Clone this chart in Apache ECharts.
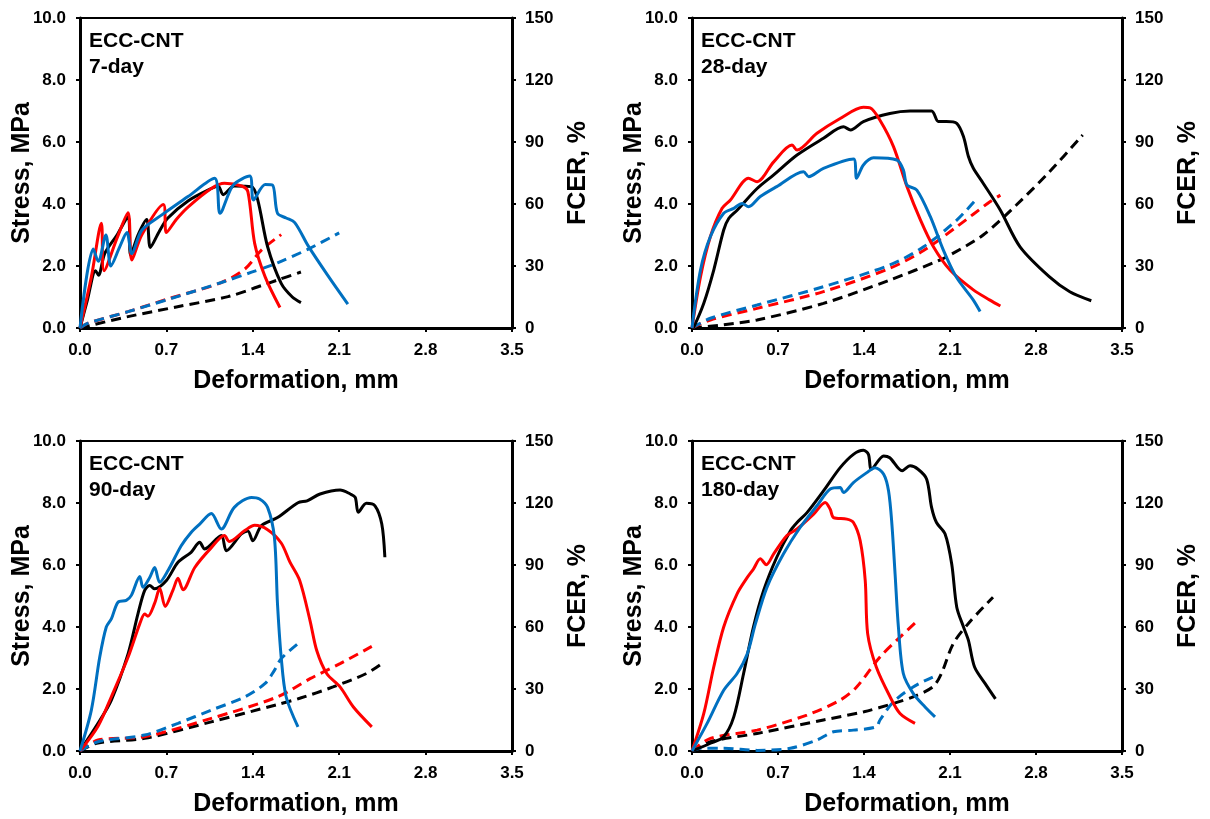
<!DOCTYPE html>
<html>
<head>
<meta charset="utf-8">
<script src="https://cdn.jsdelivr.net/npm/echarts@6/dist/echarts.min.js"></script>
<style>
  html, body { margin: 0; padding: 0; background: #fff; }
  #chart { width: 1210px; height: 819px; }
</style>
</head>
<body>
<div id="chart"></div>
<script>
// Axis ticks shared by all four panels
const deformTicks = [0.0, 0.7, 1.4, 2.1, 2.8, 3.5];
const stressTicks = [0, 2, 4, 6, 8, 10];
const fcerTicks = [0, 30, 60, 90, 120, 150];

const panelLabels = ['7-day', '28-day', '90-day', '180-day'];
const specimen = 'ECC-CNT';

// ---- 7-day: [deformation mm, stress MPa] and [deformation mm, FCER %]
const s7_black = [[0,0],[0.06,0.9],[0.126,1.85],[0.15,1.7],[0.2,2.4],[0.3,3.0],[0.39,3.6],[0.41,2.35],[0.47,3.0],[0.54,3.5],[0.57,2.6],[0.64,3.1],[0.71,3.54],[0.875,4.1],[1.064,4.5],[1.12,4.57],[1.16,4.3],[1.25,4.58],[1.39,4.56],[1.44,4.13],[1.52,2.62],[1.63,1.44],[1.72,1.0],[1.79,0.82]];
const s7_red = [[0,0],[0.092,1.65],[0.173,3.38],[0.195,1.85],[0.3,2.9],[0.389,3.72],[0.42,2.19],[0.5,3.0],[0.675,3.98],[0.70,3.08],[0.78,3.5],[0.875,3.9],[1.064,4.5],[1.17,4.67],[1.31,4.58],[1.36,4.4],[1.415,2.73],[1.50,1.65],[1.62,0.66]];
const s7_blue = [[0,0],[0.108,2.55],[0.148,2.15],[0.21,3.0],[0.25,2.0],[0.32,2.6],[0.38,3.08],[0.42,2.4],[0.5,3.15],[0.66,3.64],[0.875,4.24],[1.09,4.83],[1.135,3.7],[1.24,4.6],[1.375,4.9],[1.405,4.13],[1.50,4.63],[1.56,4.61],[1.60,3.7],[1.67,3.55],[1.74,3.4],[1.85,2.64],[2.01,1.68],[2.17,0.77]];
const f7_black = [[0,0],[0.065,1],[0.389,5.5],[0.79,10.3],[1.2,15.2],[1.47,20.5],[1.6,23.2],[1.79,27.1]];
const f7_red = [[0,0],[0.065,2.3],[0.389,7.9],[0.72,14.2],[1.145,22],[1.335,28.5],[1.47,37.7],[1.63,45.2]];
const f7_blue = [[0,0],[0.065,2.3],[0.389,7.9],[0.75,14.5],[1.145,22],[1.39,27],[1.6,31.5],[1.85,38.2],[2.1,46]];

// ---- 28-day
const s28_black = [[0,0],[0.015,0.04],[0.096,0.8],[0.177,1.87],[0.258,3.16],[0.30,3.54],[0.367,3.8],[0.53,4.5],[0.665,4.94],[0.855,5.58],[1.07,6.12],[1.233,6.49],[1.29,6.39],[1.395,6.66],[1.61,6.92],[1.775,7.0],[1.95,7.0],[2.005,6.66],[2.07,6.66],[2.155,6.6],[2.21,6.17],[2.25,5.53],[2.29,5.15],[2.37,4.67],[2.51,3.8],[2.67,2.62],[2.91,1.65],[3.075,1.17],[3.25,0.88]];
const s28_red = [[0,0],[0.069,1.65],[0.15,2.95],[0.245,3.86],[0.313,4.13],[0.46,4.83],[0.53,4.72],[0.665,5.36],[0.814,5.9],[0.855,5.74],[1.017,6.28],[1.206,6.76],[1.395,7.12],[1.45,7.1],[1.53,6.7],[1.64,5.85],[1.75,4.56],[1.86,3.48],[1.965,2.62],[2.1,1.87],[2.29,1.23],[2.425,0.9],[2.51,0.71]];
const s28_blue = [[0,0],[0.069,1.87],[0.15,2.95],[0.258,3.7],[0.34,3.86],[0.408,4.02],[0.46,3.91],[0.556,4.24],[0.69,4.56],[0.908,5.04],[0.95,4.88],[1.07,5.15],[1.315,5.45],[1.34,4.83],[1.395,5.26],[1.477,5.49],[1.667,5.42],[1.72,5.1],[1.75,4.61],[1.83,4.45],[1.94,3.59],[2.045,2.52],[2.15,1.65],[2.29,0.9],[2.345,0.53]];
const f28_black = [[0,0],[0.26,1.6],[0.53,3.9],[1.07,11.9],[1.61,23.2],[2.02,32.9],[2.1,35.3],[2.37,45],[2.64,59.5],[2.91,75.6],[3.18,93.4]];
const f28_red = [[0,0],[0.15,3.9],[0.53,9.5],[1.07,17.6],[1.61,28.9],[1.885,37.5],[2.155,49],[2.425,61.1],[2.51,64.3]];
const f28_blue = [[0,0],[0.15,4.7],[0.53,11.1],[1.07,20],[1.61,30.5],[1.885,39.3],[2.155,52.2],[2.32,62.7]];

// ---- 90-day
const s90_black = [[0,0],[0.146,0.89],[0.254,1.64],[0.39,3.14],[0.47,4.43],[0.524,5.18],[0.565,5.34],[0.605,5.23],[0.70,5.5],[0.794,6.09],[0.9,6.41],[0.97,6.73],[1.01,6.52],[1.145,6.95],[1.186,6.46],[1.307,7.0],[1.36,7.1],[1.40,6.78],[1.47,7.27],[1.6,7.53],[1.766,8.01],[1.84,8.07],[1.945,8.29],[2.107,8.42],[2.19,8.29],[2.23,8.18],[2.255,7.7],[2.32,7.99],[2.39,7.91],[2.445,7.32],[2.47,6.25]];
const s90_red = [[0,0],[0.146,0.8],[0.254,1.75],[0.39,3.03],[0.484,4.1],[0.524,4.42],[0.55,4.35],[0.605,4.77],[0.646,5.25],[0.69,4.66],[0.754,5.2],[0.794,5.57],[0.835,5.2],[0.93,5.92],[1.064,6.56],[1.17,6.95],[1.21,6.76],[1.335,7.11],[1.415,7.28],[1.52,7.14],[1.63,6.71],[1.70,6.1],[1.78,5.5],[1.864,4.2],[1.918,3.24],[2.0,2.49],[2.107,2.07],[2.215,1.42],[2.364,0.78]];
const s90_blue = [[0,0],[0.092,1.32],[0.16,3.03],[0.213,4.0],[0.254,4.26],[0.308,4.8],[0.375,4.86],[0.416,5.02],[0.484,5.63],[0.51,5.28],[0.565,5.6],[0.605,5.92],[0.646,5.44],[0.713,5.82],[0.82,6.62],[0.9,7.05],[0.97,7.32],[1.064,7.66],[1.145,7.16],[1.25,7.86],[1.39,8.18],[1.455,8.13],[1.52,7.86],[1.575,6.89],[1.6,4.75],[1.63,3.03],[1.67,1.75],[1.766,0.78]];
const f90_black = [[0,0],[0.146,3.9],[0.524,6.1],[1.064,14.1],[1.6,22.5],[1.78,25.5],[2.05,31],[2.32,37.5],[2.445,42.3]];
const f90_red = [[0,0],[0.146,5.3],[0.524,6.9],[1.064,15.8],[1.6,26.2],[1.864,35],[2.107,42.3],[2.364,50.6]];
const f90_blue = [[0,0],[0.146,4.5],[0.524,7.7],[0.794,13.4],[1.064,19.8],[1.335,26.2],[1.5,32.7],[1.575,39],[1.63,44.7],[1.766,52]];

// ---- 180-day
const s180_black = [[0,0],[0.15,0.25],[0.258,0.46],[0.34,1.1],[0.42,2.5],[0.50,4.0],[0.583,5.18],[0.69,6.25],[0.8,7.1],[0.855,7.37],[0.936,7.69],[1.07,8.39],[1.206,9.14],[1.314,9.57],[1.395,9.7],[1.436,9.57],[1.46,9.09],[1.56,9.52],[1.61,9.46],[1.71,9.04],[1.775,9.2],[1.84,9.09],[1.91,8.77],[1.95,7.86],[1.99,7.37],[2.06,7.0],[2.114,6.03],[2.155,4.64],[2.21,4.0],[2.25,3.57],[2.30,2.71],[2.385,2.18],[2.47,1.68]];
const s180_red = [[0,0],[0.096,1.21],[0.177,2.71],[0.258,4.0],[0.367,5.07],[0.45,5.6],[0.50,5.87],[0.556,6.2],[0.605,6.01],[0.665,6.36],[0.773,6.95],[0.855,7.16],[0.99,7.64],[1.084,8.02],[1.125,7.8],[1.152,7.53],[1.26,7.48],[1.314,7.37],[1.369,6.78],[1.41,5.5],[1.43,3.78],[1.5,2.71],[1.612,1.75],[1.693,1.21],[1.815,0.89]];
const s180_blue = [[0,0],[0.123,0.89],[0.258,1.96],[0.367,2.5],[0.45,3.14],[0.516,4.1],[0.61,5.28],[0.745,6.36],[0.88,7.21],[1.017,7.91],[1.125,8.45],[1.206,8.5],[1.233,8.34],[1.314,8.66],[1.423,8.98],[1.49,9.14],[1.56,8.93],[1.6,8.39],[1.627,7.32],[1.653,5.71],[1.68,4.0],[1.72,2.5],[1.8,1.86],[1.897,1.42],[1.978,1.1]];
const f180_black = [[0,0],[0.15,4.5],[0.53,8.5],[1.07,15],[1.4,19],[1.64,23],[1.8,26.2],[1.96,31],[2.03,37.5],[2.127,52],[2.26,62.4],[2.45,74.4]];
const f180_red = [[0,0],[0.15,6.1],[0.53,10.1],[0.936,17.4],[1.206,24.6],[1.34,31],[1.53,45.5],[1.693,55.1],[1.815,61.9]];
const f180_blue = [[0,0],[0.07,1.3],[0.26,1.3],[0.53,0.3],[0.8,1.3],[1.017,5.3],[1.15,9.3],[1.314,10.1],[1.5,11.7],[1.53,15],[1.64,23.8],[1.8,31],[1.96,35.8]];

const panels = [
  { stress: [s7_black, s7_red, s7_blue],       fcer: [f7_black, f7_red, f7_blue] },
  { stress: [s28_black, s28_red, s28_blue],    fcer: [f28_black, f28_red, f28_blue] },
  { stress: [s90_black, s90_red, s90_blue],    fcer: [f90_black, f90_red, f90_blue] },
  { stress: [s180_black, s180_red, s180_blue], fcer: [f180_black, f180_red, f180_blue] }
];

const colors = ['#000000', '#FF0000', '#0070C0'];
const FONT = 'Liberation Sans, Arial, sans-serif';

// pixel boxes of the four plot areas
const boxes = [
  { left: 80,  top: 18,  width: 432, height: 310 },
  { left: 692, top: 18,  width: 430, height: 310 },
  { left: 80,  top: 441, width: 432, height: 310 },
  { left: 692, top: 441, width: 430, height: 310 }
];

const axisLineStyle = { color: '#000', width: 3 };
const labelStyle = { color: '#000', fontFamily: FONT, fontWeight: 'bold', fontSize: 17 };
const nameStyle = { color: '#000', fontFamily: FONT, fontWeight: 'bold', fontSize: 25 };

const grid = [], xAxis = [], yAxis = [], series = [], graphic = [];

boxes.forEach((b, i) => {
  grid.push(Object.assign({ show: true, borderColor: '#000', borderWidth: 2, backgroundColor: 'transparent', containLabel: false }, b));
  xAxis.push({
    type: 'value', gridIndex: i,
    min: deformTicks[0], max: deformTicks[deformTicks.length - 1], interval: 0.7,
    name: 'Deformation, mm', nameLocation: 'middle', nameGap: 41, nameTextStyle: nameStyle,
    axisLine: { show: true, onZero: false, lineStyle: axisLineStyle },
    axisTick: { show: true, inside: false, length: 4, lineStyle: { color: '#000', width: 2 } },
    axisLabel: Object.assign({ margin: 14, showMinLabel: true, showMaxLabel: true, formatter: v => v.toFixed(1) }, labelStyle),
    splitLine: { show: false }
  });
  yAxis.push({
    type: 'value', gridIndex: i, position: 'left',
    min: stressTicks[0], max: stressTicks[stressTicks.length - 1], interval: 2,
    name: 'Stress, MPa', nameLocation: 'middle', nameGap: 45, nameMoveOverlap: false, nameTextStyle: nameStyle,
    axisLine: { show: true, onZero: false, lineStyle: axisLineStyle },
    axisTick: { show: true, inside: false, length: 4, lineStyle: { color: '#000', width: 2 } },
    axisLabel: Object.assign({ margin: 14, showMinLabel: true, showMaxLabel: true, formatter: v => v.toFixed(1) }, labelStyle),
    splitLine: { show: false }
  });
  yAxis.push({
    type: 'value', gridIndex: i, position: 'right',
    min: fcerTicks[0], max: fcerTicks[fcerTicks.length - 1], interval: 30,
    name: 'FCER, %', nameLocation: 'middle', nameGap: 54, nameMoveOverlap: false, nameTextStyle: nameStyle,
    axisLine: { show: true, onZero: false, lineStyle: axisLineStyle },
    axisTick: { show: true, inside: false, length: 4, lineStyle: { color: '#000', width: 2 } },
    axisLabel: Object.assign({ margin: 13, showMinLabel: true, showMaxLabel: true }, labelStyle),
    splitLine: { show: false }
  });

  panels[i].stress.forEach((d, k) => {
    series.push({
      type: 'line', xAxisIndex: i, yAxisIndex: 2 * i, data: d,
      showSymbol: false, smooth: 0.3, animation: false, silent: true, z: 3,
      lineStyle: { color: colors[k], width: 3 }
    });
  });
  panels[i].fcer.forEach((d, k) => {
    series.push({
      type: 'line', xAxisIndex: i, yAxisIndex: 2 * i + 1, data: d,
      showSymbol: false, smooth: 0.3, animation: false, silent: true, z: 2,
      lineStyle: { color: colors[k], width: 3, type: [10, 6] }
    });
  });

  graphic.push({
    type: 'text', left: b.left + 9, top: b.top + 10, silent: true,
    style: {
      text: specimen + '\n' + panelLabels[i],
      fill: '#000', font: 'bold 21px ' + FONT, lineHeight: 26
    }
  });
});

const chart = echarts.init(document.getElementById('chart'), null, { renderer: 'canvas' });
chart.setOption({ animation: false, backgroundColor: '#fff', grid, xAxis, yAxis, series, graphic });
</script>
</body>
</html>
